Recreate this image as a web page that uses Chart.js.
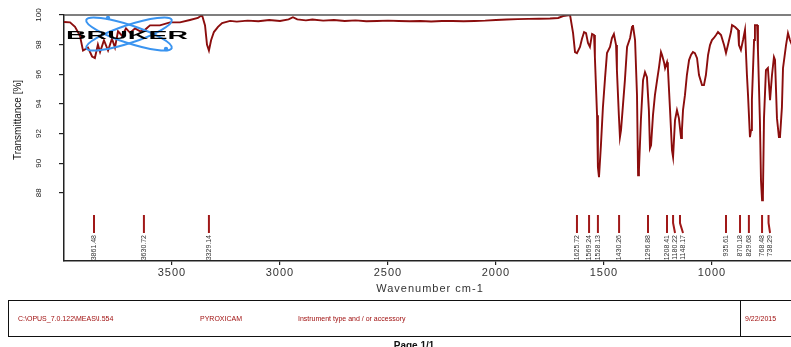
<!DOCTYPE html>
<html>
<head>
<meta charset="utf-8">
<script src="https://cdn.jsdelivr.net/npm/chart.js@4.4.0/dist/chart.umd.min.js"></script>
<style>
  html, body { margin: 0; padding: 0; background: #fff; }
  #wrap { width: 791px; height: 347px; position: relative; overflow: hidden; }
</style>
</head>
<body>
<div id="wrap"><canvas id="spectrum" width="791" height="347"></canvas></div>
<script>
// wavenumber (cm-1) and transmittance (%)
const wavenumber = [
  4000, 3972, 3949, 3926, 3912, 3889, 3870, 3857, 3843, 3833, 3815, 3796, 3778, 3764, 3750, 3731,
  3713, 3694, 3671, 3648, 3625, 3602, 3556, 3509, 3463, 3417, 3380, 3361, 3347, 3338, 3329, 3319,
  3306, 3287, 3268, 3231, 3200, 3150, 3100, 3050, 3000, 2960, 2940, 2920, 2880, 2850, 2800, 2750,
  2700, 2650, 2600, 2550, 2500, 2450, 2400, 2350, 2300, 2250, 2200, 2150, 2100, 2050, 2000, 1950,
  1900, 1850, 1800, 1750, 1712, 1689, 1657,
  1643, 1634, 1625, 1611, 1602, 1592, 1583, 1574, 1565, 1555, 1546, 1542, 1532, 1528, 1523, 1514,
  1505, 1495, 1486, 1472, 1463, 1454, 1444, 1440, 1431, 1426, 1421, 1412, 1403, 1393, 1379, 1370,
  1366, 1356, 1347, 1342, 1338, 1329, 1319, 1310, 1301, 1292, 1287, 1282, 1273, 1264, 1254, 1245,
  1236, 1231, 1222, 1217, 1208, 1204, 1194, 1185, 1180, 1171, 1162, 1153, 1143, 1139, 1134, 1125,
  1116, 1106, 1097, 1088, 1079, 1069, 1060, 1046, 1037, 1028, 1018, 1009, 1000, 991, 981, 972,
  958, 944, 935, 926, 912, 907, 893, 879, 875, 866, 856, 847, 838, 833, 824, 819,
  815, 805, 801, 791, 787, 778, 773, 768, 764, 759, 750, 741, 731, 722, 713, 708,
  699, 690, 685, 676, 671, 657, 648, 639, 630
];
const transmittance = [
  99.53, 99.50, 99.20, 98.60, 97.60, 97.80, 97.20, 97.10, 98.00, 97.50, 98.30, 97.60, 98.40, 97.80, 98.90, 98.60,
  99.10, 98.80, 99.10, 98.90, 99.00, 99.30, 99.30, 99.50, 99.50, 99.66, 99.80, 100.0, 99.30, 98.00, 97.60, 98.30,
  98.85, 99.20, 99.46, 99.60, 99.55, 99.62, 99.58, 99.66, 99.60, 99.70, 99.85, 99.70, 99.64, 99.70, 99.62, 99.66,
  99.60, 99.64, 99.58, 99.60, 99.62, 99.60, 99.58, 99.60, 99.56, 99.60, 99.60, 99.58, 99.60, 99.62, 99.66, 99.70,
  99.72, 99.74, 99.75, 99.76, 99.80, 99.93, 100.0,
  98.78, 97.50, 97.43, 97.84, 98.38, 98.85, 98.78, 98.11, 97.84, 98.72, 98.65, 97.16, 93.24, 89.73, 89.05, 91.22,
  93.72, 95.74, 97.43, 97.84, 98.45, 98.72, 97.97, 96.28, 93.24, 91.76, 92.23, 93.92, 95.61, 97.84, 98.45, 99.19,
  99.32, 98.31, 94.59, 89.19, 89.53, 92.90, 95.61, 96.15, 95.81, 93.58, 91.01, 91.20, 93.24, 94.59, 95.61, 96.49,
  97.50, 97.30, 96.82, 96.42, 96.82, 96.42, 93.58, 90.88, 90.41, 92.90, 93.58, 93.04, 91.69, 92.23, 93.58, 94.59,
  95.95, 96.96, 97.30, 97.50, 97.43, 97.09, 95.95, 95.27, 95.27, 95.95, 97.30, 97.97, 98.31, 98.45, 98.65, 98.85,
  98.65, 97.97, 97.43, 97.97, 98.85, 99.32, 99.19, 98.99, 97.97, 97.64, 98.31, 98.99, 95.95, 94.59, 91.76, 92.23,
  94.26, 98.31, 99.32, 99.32, 97.64, 92.90, 88.85, 87.50, 87.84, 93.04, 96.28, 96.42, 94.26, 95.95, 97.16, 96.96,
  93.04, 91.76, 91.76, 93.78, 96.42, 97.97, 98.78, 98.31, 98.00
];

// picked peaks
const peakWavenumber = [3861, 3630, 3329, 1625, 1569, 1528, 1430, 1296, 1208, 1180, 1148, 935, 870, 829, 768, 738];
const peakLabel = ["3861.48", "3630.72", "3329.14", "1625.72", "1569.24", "1528.13", "1430.26", "1296.88",
  "1208.41", "1180.22", "1148.17", "935.61", "870.18", "829.68", "768.48", "738.29"];

const xTicks = [3500, 3000, 2500, 2000, 1500, 1000];
const yTicks = [100, 98, 96, 94, 92, 90, 88];

const points = wavenumber.map((w, i) => ({ x: w, y: transmittance[i] }));

const decor = {
  id: "decor",
  afterDatasetsDraw(chart) {
    const ctx = chart.ctx;
    const a = chart.chartArea;
    ctx.save();
    // top frame line
    ctx.strokeStyle = "#555";
    ctx.lineWidth = 1.5;
    ctx.beginPath();
    ctx.moveTo(a.left, a.top);
    ctx.lineTo(a.right, a.top);
    ctx.stroke();

    // bruker logo
    ctx.strokeStyle = "#3a94f0";
    ctx.lineWidth = 2;
    [0.32, -0.32].forEach(r => {
      ctx.beginPath();
      ctx.ellipse(129, 34, 45, 9, r, 0, Math.PI * 2);
      ctx.stroke();
    });
    ctx.fillStyle = "#3a94f0";
    ctx.beginPath(); ctx.arc(108, 18, 2.2, 0, Math.PI * 2); ctx.fill();
    ctx.beginPath(); ctx.arc(166, 49, 2.2, 0, Math.PI * 2); ctx.fill();
    ctx.font = "bold 11px 'Liberation Sans', Arial";
    const tw = ctx.measureText("BRUKER").width;
    ctx.translate(66, 39);
    ctx.scale(122 / tw, 0.95);
    ctx.fillStyle = "#000";
    ctx.textBaseline = "alphabetic";
    ctx.fillText("BRUKER", 0, 0);
    ctx.restore();
  },
  afterDraw(chart) {
    const ctx = chart.ctx;
    const xs = chart.scales.x;
    const ys = chart.scales.y;
    ctx.save();

    // y tick labels, rotated
    ctx.fillStyle = "#222";
    ctx.font = "8px 'Liberation Sans', Arial";
    ctx.textAlign = "center";
    ctx.textBaseline = "middle";
    yTicks.forEach(v => {
      const y = ys.getPixelForValue(v);
      ctx.save();
      ctx.translate(39, y);
      ctx.rotate(-Math.PI / 2);
      ctx.fillText(String(v), 0, 0);
      ctx.restore();
    });

    // y title
    ctx.save();
    ctx.font = "10px 'Liberation Sans Narrow', 'Liberation Sans', Arial";
    ctx.fillStyle = "#111";
    ctx.translate(18, 120);
    ctx.rotate(-Math.PI / 2);
    ctx.fillText("Transmittance [%]", 0, 0);
    ctx.restore();

    // x tick labels
    ctx.font = "11px 'Liberation Sans', Arial";
    ctx.letterSpacing = "1px";
    ctx.fillStyle = "#333";
    xTicks.forEach(v => {
      ctx.fillText(String(v), xs.getPixelForValue(v), 273);
    });
    ctx.fillText("Wavenumber cm-1", 430, 289);
    ctx.letterSpacing = "0px";

    // peak markers
    let prev = -100;
    const order = peakWavenumber.map((w, i) => i).sort((p, q) => peakWavenumber[q] - peakWavenumber[p]);
    order.forEach(i => {
      const px = xs.getPixelForValue(peakWavenumber[i]);
      const lx = Math.max(px, prev + 8);
      prev = lx;
      ctx.strokeStyle = "#a01818";
      ctx.lineWidth = 2;
      ctx.beginPath();
      if (lx - px > 0.5) {
        ctx.moveTo(px, 215);
        ctx.lineTo(px, 223);
        ctx.lineTo(lx, 233);
      } else {
        ctx.moveTo(px, 215);
        ctx.lineTo(px, 233);
      }
      ctx.stroke();
      ctx.save();
      ctx.translate(lx, 235);
      ctx.rotate(-Math.PI / 2);
      ctx.font = "7px 'Liberation Sans Narrow', 'Liberation Sans', Arial";
      ctx.fillStyle = "#333";
      ctx.textAlign = "right";
      ctx.textBaseline = "middle";
      ctx.fillText(peakLabel[i], 0, 0);
      ctx.restore();
    });

    // footer box
    ctx.strokeStyle = "#111";
    ctx.lineWidth = 1;
    ctx.strokeRect(8.5, 300.5, 800, 36);
    ctx.beginPath();
    ctx.moveTo(740.5, 300.5);
    ctx.lineTo(740.5, 336.5);
    ctx.stroke();
    ctx.font = "7px 'Liberation Sans', Arial";
    ctx.fillStyle = "#a01010";
    ctx.textAlign = "left";
    ctx.textBaseline = "middle";
    ctx.fillText("C:\\OPUS_7.0.122\\MEAS\\I.554", 18, 319);
    ctx.fillText("PYROXICAM", 200, 319);
    ctx.fillText("Instrument type and / or accessory", 298, 319);
    ctx.fillText("9/22/2015", 745, 319);
    ctx.font = "bold 10px 'Liberation Sans', Arial";
    ctx.fillStyle = "#111";
    ctx.textAlign = "center";
    ctx.fillText("Page 1/1", 414, 346);
    ctx.restore();
  }
};

new Chart(document.getElementById("spectrum"), {
  type: "line",
  data: {
    datasets: [{
      data: points,
      borderColor: "#8b0d0d",
      borderWidth: 1.9,
      pointRadius: 0,
      tension: 0,
      fill: false
    }]
  },
  options: {
    responsive: false,
    animation: false,
    devicePixelRatio: 1,
    layout: { padding: { top: 15, left: 0, right: 0, bottom: 0 } },
    plugins: { legend: { display: false }, tooltip: { enabled: false } },
    scales: {
      x: {
        type: "linear",
        reverse: true,
        min: 634,
        max: 4000,
        afterFit: s => { s.height = 86; },
        afterBuildTicks: s => { s.ticks = xTicks.map(v => ({ value: v })); },
        ticks: { display: false },
        grid: { drawOnChartArea: false, tickLength: 4, color: "#222", lineWidth: 1.2 },
        border: { color: "#222", width: 1.5 }
      },
      y: {
        min: 83.4,
        max: 100,
        afterFit: s => { s.width = 64; },
        afterBuildTicks: s => { s.ticks = yTicks.map(v => ({ value: v })); },
        ticks: { display: false },
        grid: { drawOnChartArea: false, tickLength: 5, color: "#222", lineWidth: 1.2 },
        border: { color: "#222", width: 1.5 }
      }
    }
  },
  plugins: [decor]
});
</script>
</body>
</html>
